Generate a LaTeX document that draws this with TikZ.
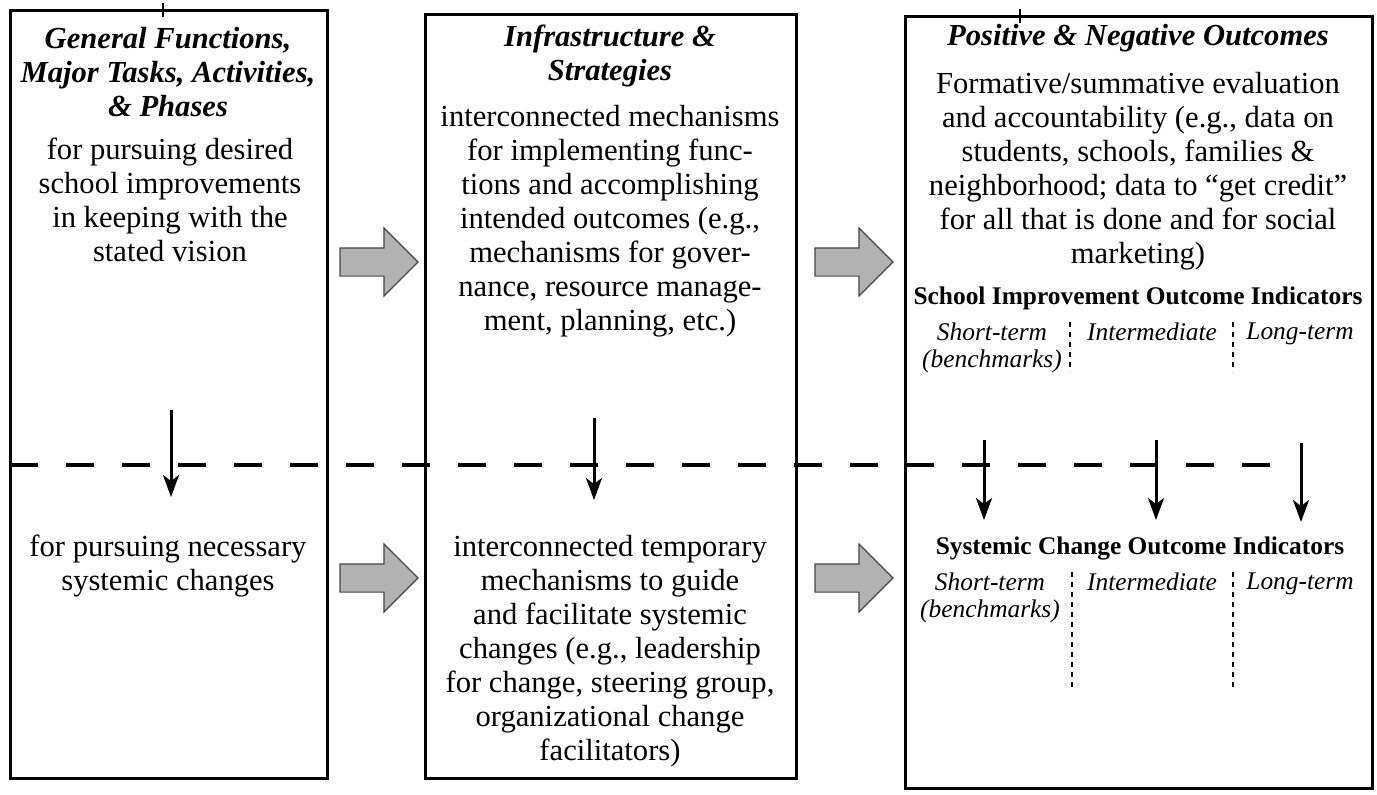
\documentclass[tikz,border=0pt]{standalone}
\usepackage{fontspec}
\setmainfont{Liberation Serif}
\usetikzlibrary{shapes.arrows,arrows.meta}

\newcommand{\bodyfnt}{\fontsize{15.3}{17}\selectfont}
\newcommand{\smallfnt}{\fontsize{12.7}{13.5}\selectfont}

\begin{document}
\begin{tikzpicture}[x=0.5pt,y=-0.5pt,
    frame/.style={draw,line width=1.5pt},
    head/.style={font=\bodyfnt\bfseries\itshape,align=center,inner sep=0pt},
    txt/.style={font=\bodyfnt,align=center,inner sep=0pt},
    ind/.style={font=\smallfnt\bfseries,inner sep=0pt},
    term/.style={font=\smallfnt\itshape,align=center,inner sep=0pt,anchor=north},
    blk/.style={single arrow,fill=gray!60,draw=gray!55!black,line width=0.6pt,
      inner xsep=0pt,inner ysep=6.75pt,minimum height=39pt,
      single arrow head extend=10pt},
    down/.style={-{Stealth[length=11pt,width=8pt,inset=3pt]},line width=1.5pt,draw},
    split/.style={draw,line width=2pt,dash pattern=on 14pt off 14pt},
    sep/.style={draw,line width=0.8pt,dash pattern=on 2.5pt off 2.5pt}]

    \useasboundingbox (0,0) rectangle (1377,794);

    % the three columns
    \draw[frame] (10,10) rectangle (327,778);
    \draw[frame] (425,14) rectangle (796,778);
    \draw[frame] (905,16) rectangle (1372,788);
    \draw[line width=1pt] (163,3) -- (163,17);
    \draw[line width=1pt] (1020,9) -- (1020,23);

    % first column
    \node[head] (t1) at (168,72) {General Functions,\\Major Tasks, Activities,\\\& Phases};
    \node[txt] (b1) at (170,200) {for pursuing desired\\school improvements\\in keeping with the\\stated vision};
    \node[txt] (l1) at (168,566) {for pursuing necessary\\systemic changes};

    % second column
    \node[head] (t2) at (610,56) {Infrastructure \&\\Strategies};
    \node[txt] (b2) at (610,221) {interconnected mechanisms\\for implementing func-\\tions and accomplishing\\intended outcomes (e.g.,\\mechanisms for gover-\\nance, resource manage-\\ment, planning, etc.)};
    \node[txt] (l2) at (610,651) {interconnected temporary\\mechanisms to guide\\and facilitate systemic\\changes (e.g., leadership\\for change, steering group,\\organizational change\\facilitators)};

    % third column
    \node[head] (t3) at (1138,38) {Positive \& Negative Outcomes};
    \node[txt] (b3) at (1138,171) {Formative/summative evaluation\\and accountability (e.g., data on\\students, schools, families \&\\neighborhood; data to “get credit”\\for all that is done and for social\\marketing)};
    \node[ind] (si) at (1138,298) {School Improvement Outcome Indicators};
    \node[term] (s1) at (992,322) {Short-term\\(benchmarks)};
    \node[term] (s2) at (1152,322) {Intermediate};
    \node[term] (s3) at (1300,322) {Long-term};
    \node[ind] (sc) at (1140,548) {Systemic Change Outcome Indicators};
    \node[term] (c1) at (990,572) {Short-term\\(benchmarks)};
    \node[term] (c2) at (1152,572) {Intermediate};
    \node[term] (c3) at (1300,572) {Long-term};

    \path[sep] (1070,322) -- (1070,372);
    \path[sep] (1233,322) -- (1233,372);
    \path[sep] (1072,572) -- (1072,690);
    \path[sep] (1233,572) -- (1233,690);

    % gray arrows between the columns
    \node[blk] (g1) at (372,262) {};
    \node[blk] (g2) at (847,262) {};
    \node[blk] (g3) at (372,578) {};
    \node[blk] (g4) at (847,578) {};

    % dashed split and the arrows across it
    \coordinate (sa) at (10,465);
    \coordinate (sb) at (1298,465);
    \path[split] (sa) -- (sb);

    \coordinate (d1a) at (171,410);
    \coordinate (d1b) at (171,497);
    \coordinate (d2a) at (594,418);
    \coordinate (d2b) at (594,500);
    \coordinate (d3a) at (984,440);
    \coordinate (d3b) at (984,520);
    \coordinate (d4a) at (1156,440);
    \coordinate (d4b) at (1156,520);
    \coordinate (d5a) at (1301,443);
    \coordinate (d5b) at (1301,522);

    \path[down] (d1a) -- (d1b);
    \path[down] (d2a) -- (d2b);
    \path[down] (d3a) -- (d3b);
    \path[down] (d4a) -- (d4b);
    \path[down] (d5a) -- (d5b);

\end{tikzpicture}
\end{document}
